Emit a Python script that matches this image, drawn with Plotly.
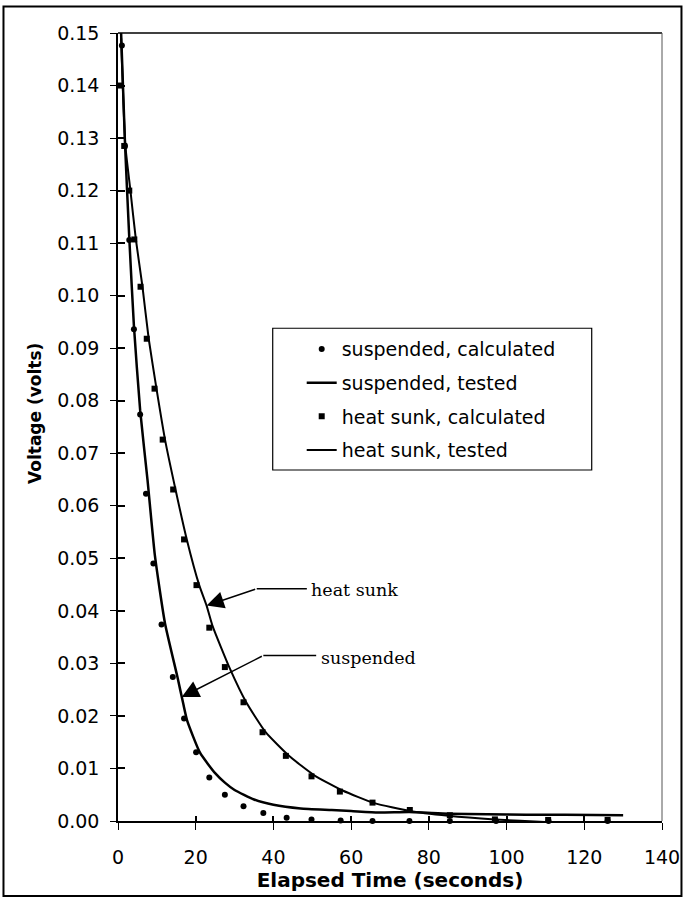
import plotly.graph_objects as go

# Calculated decay, suspended sample
t_susp_calc = [1.0, 1.8, 2.9, 4.1, 5.7, 7.2, 9.1, 11.2, 14.1, 17.0, 20.1, 23.5,
               27.5, 32.3, 37.4, 43.4, 49.8, 57.3, 65.5, 75.0, 85.4, 97.3, 110.8, 126.0]
v_susp_calc = [0.1476, 0.1285, 0.1106, 0.0936, 0.0774, 0.0623, 0.0490, 0.0374,
               0.0274, 0.0195, 0.0131, 0.0083, 0.0050, 0.0028, 0.0015, 0.0006,
               0.0003, 0.0001, 0.0000, 0.0000, 0.0000, 0.0000, 0.0000, 0.0000]

# Measured decay, suspended sample
t_susp_test = [0.8, 1.8, 2.9, 4.1, 5.7, 7.6, 9.5, 12.1, 15.3, 16.8, 17.8, 21.1,
               25.0, 27.5, 30.0, 35.0, 40.0, 47.0, 55.0, 60.0, 67.0, 75.0, 85.0,
               95.0, 105.0, 115.0, 130.0]
v_susp_test = [0.1500, 0.1290, 0.1110, 0.0942, 0.0782, 0.0649, 0.0505, 0.0376,
               0.0274, 0.0223, 0.0191, 0.0130, 0.0091, 0.0073, 0.0059, 0.0041,
               0.0031, 0.0024, 0.0021, 0.0019, 0.0016, 0.0017, 0.0014, 0.0013,
               0.0012, 0.0012, 0.0011]

# Calculated decay, heat sunk sample
t_sink_calc = [0.5, 1.6, 2.9, 4.2, 5.8, 7.4, 9.4, 11.5, 14.2, 17.0, 20.2, 23.5,
               27.5, 32.3, 37.2, 43.2, 49.8, 57.1, 65.5, 75.1, 85.4, 97.0, 110.7, 126.0]
v_sink_calc = [0.1400, 0.1285, 0.1200, 0.1107, 0.1017, 0.0918, 0.0823, 0.0726,
               0.0631, 0.0536, 0.0449, 0.0368, 0.0293, 0.0226, 0.0169, 0.0124,
               0.0085, 0.0056, 0.0035, 0.0021, 0.0011, 0.0003, 0.0002, 0.0002]

# Measured decay, heat sunk sample
t_sink_test = [0.8, 1.9, 3.2, 4.6, 6.3, 7.9, 9.9, 12.1, 14.8, 17.7, 20.9, 22.8,
               24.3, 28.8, 33.0, 38.0, 44.0, 50.5, 57.8, 66.0, 75.0, 85.0, 97.0,
               110.0, 120.0, 130.0]
v_sink_test = [0.1490, 0.1285, 0.1200, 0.1107, 0.1017, 0.0918, 0.0823, 0.0726,
               0.0631, 0.0536, 0.0449, 0.0410, 0.0372, 0.0290, 0.0226, 0.0169,
               0.0124, 0.0087, 0.0058, 0.0034, 0.0019, 0.0010, 0.0003, -0.0002,
               -0.0003, -0.0003]

x_ticks = [0, 20, 40, 60, 80, 100, 120, 140]
y_ticks = [round(0.01 * i, 2) for i in range(16)]

SANS = "DejaVu Sans"
SERIF = "DejaVu Serif"

fig = go.Figure()
fig.add_trace(go.Scatter(
    x=t_susp_calc, y=v_susp_calc, mode="markers", name="suspended, calculated",
    legendgroup="a", cliponaxis=False,
    marker=dict(symbol="circle", size=6, color="black")))
fig.add_trace(go.Scatter(
    x=t_susp_test, y=v_susp_test, mode="lines", name="suspended, tested",
    legendgroup="b", line=dict(color="black", width=2.5, shape="spline", smoothing=0.5)))
fig.add_trace(go.Scatter(
    x=t_sink_calc, y=v_sink_calc, mode="markers", name="heat sunk, calculated",
    legendgroup="c", cliponaxis=False,
    marker=dict(symbol="square", size=6, color="black")))
fig.add_trace(go.Scatter(
    x=t_sink_test, y=v_sink_test, mode="lines", name="heat sunk, tested",
    legendgroup="d", line=dict(color="black", width=2.0, shape="spline", smoothing=0.5)))
# empty trace so the overlay axes (inner tick halves) get drawn
fig.add_trace(go.Scatter(x=[], y=[], xaxis="x2", yaxis="y2",
                         showlegend=False, hoverinfo="skip"))

axis_font = dict(family=SANS, size=19, color="black")

fig.update_layout(
    width=694, height=898,
    margin=dict(l=118, r=32, t=33, b=77),
    paper_bgcolor="white", plot_bgcolor="white",
    showlegend=True,
    legend=dict(
        x=0.3377, y=0.623, xanchor="left", yanchor="top",
        font=dict(family=SANS, size=19, color="black"),
        bgcolor="rgba(0,0,0,0)", borderwidth=0,
        tracegroupgap=6, traceorder="grouped"),
    xaxis=dict(
        range=[0, 140], tickvals=x_ticks, ticktext=[str(v) for v in x_ticks],
        ticks="outside", ticklen=7, tickwidth=1.3, tickcolor="black",
        showline=True, linecolor="black", linewidth=1.5, mirror=False,
        showgrid=False, zeroline=False, tickfont=axis_font,
        ticklabelstandoff=11,
        title=dict(text="<b>Elapsed Time (seconds)</b>",
                   font=dict(family=SANS, size=20, color="black"), standoff=5)),
    yaxis=dict(
        range=[0, 0.15], tickvals=y_ticks, ticktext=[f"{v:.2f}" for v in y_ticks],
        ticks="outside", ticklen=6, tickwidth=1.3, tickcolor="black",
        showline=True, linecolor="black", linewidth=1.5,
        showgrid=False, zeroline=False, tickfont=axis_font,
        ticklabelstandoff=7),
    # inner halves of the crossing tick marks
    xaxis2=dict(range=[0, 140], tickvals=x_ticks, overlaying="x", anchor="y2",
                side="bottom", ticks="inside", ticklen=5, tickwidth=1.5,
                tickcolor="black", showticklabels=False, showline=False,
                showgrid=False, zeroline=False, fixedrange=True),
    yaxis2=dict(range=[0, 0.15], tickvals=y_ticks, overlaying="y", anchor="x2",
                side="left", ticks="inside", ticklen=7, tickwidth=1.5,
                tickcolor="black", showticklabels=False, showline=False,
                showgrid=False, zeroline=False, fixedrange=True),
)

# y axis title
fig.add_annotation(text="<b>Voltage (volts)</b>", xref="paper", yref="paper",
                   x=-0.1526, y=0.5178, xanchor="center", yanchor="middle",
                   textangle=-90, showarrow=False,
                   font=dict(family=SANS, size=17, color="black"))

# top and right edges of the plot frame
fig.add_shape(type="line", xref="paper", yref="paper", x0=0, x1=1, y0=1, y1=1,
              line=dict(color="black", width=1.5))
fig.add_shape(type="line", xref="paper", yref="paper", x0=1, x1=1, y0=0, y1=1,
              line=dict(color="#555555", width=1))

# legend box
fig.add_shape(type="rect", xref="paper", yref="paper",
              x0=0.2844, x1=0.8708, y0=0.4454, y1=0.6253,
              line=dict(color="black", width=1.2), fillcolor="rgba(0,0,0,0)")

# outer chart border
fig.add_shape(type="rect", xref="paper", yref="paper",
              x0=-0.2105, x1=1.0358, y0=-0.0952, y1=1.0336,
              line=dict(color="black", width=2))

# callouts: horizontal leader + arrow to the curve, then the label
callouts = [
    # label, arrow tip (t, v), knee (t, v), leader end t, label y
    ("heat sunk", (22.8, 0.0410), (35.7, 0.0442), 48.6, 0.0440),
    ("suspended", (16.4, 0.0236), (37.4, 0.0315), 51.0, 0.0311),
]
for label, tip, knee, end_t, label_v in callouts:
    fig.add_shape(type="line", xref="x", yref="y", x0=knee[0], y0=knee[1],
                  x1=end_t, y1=knee[1], line=dict(color="black", width=1.5))
    fig.add_annotation(x=tip[0], y=tip[1], ax=knee[0], ay=knee[1],
                       xref="x", yref="y", axref="x", ayref="y", text="",
                       showarrow=True, arrowhead=2, arrowsize=2.3,
                       arrowwidth=1.5, arrowcolor="black", standoff=0)
    fig.add_annotation(x=end_t + 0.6, y=label_v, xref="x", yref="y",
                       text=label, showarrow=False, xanchor="left",
                       yanchor="middle",
                       font=dict(family=SERIF, size=17.5, color="black"))

fig.write_html("out.html")
